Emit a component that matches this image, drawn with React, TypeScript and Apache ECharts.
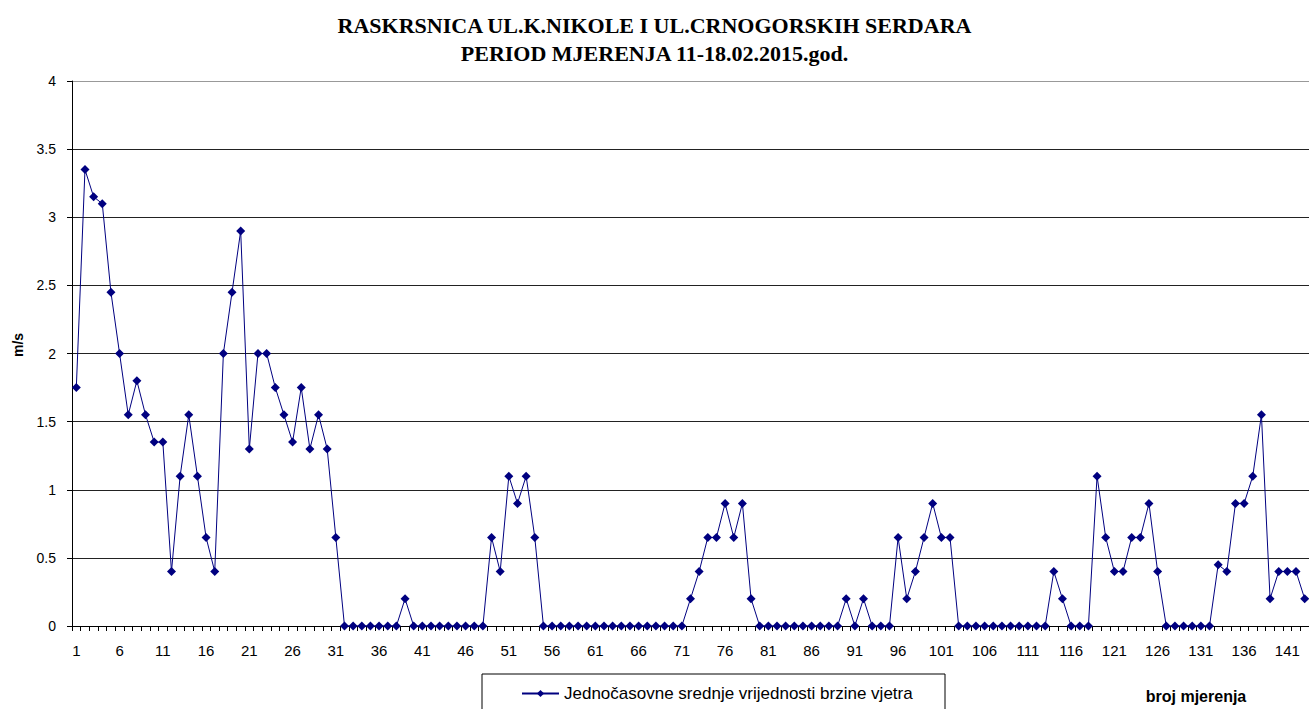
import React, { useEffect, useRef } from "react";
import * as echarts from "echarts";

const titleLines = [
  "RASKRSNICA UL.K.NIKOLE I UL.CRNOGORSKIH SERDARA",
  "PERIOD MJERENJA 11-18.02.2015.god.",
];
const seriesName = "Jednočasovne srednje vrijednosti brzine vjetra";
const yAxisTitle = "m/s";
const xAxisTitle = "broj mjerenja";

// wind speed (m/s), measurements 1..143
const windSpeed = [
  1.75, 3.35, 3.15, 3.1, 2.45, 2.0, 1.55, 1.8, 1.55, 1.35,
  1.35, 0.4, 1.1, 1.55, 1.1, 0.65, 0.4, 2.0, 2.45, 2.9,
  1.3, 2.0, 2.0, 1.75, 1.55, 1.35, 1.75, 1.3, 1.55, 1.3,
  0.65, 0, 0, 0, 0, 0, 0, 0, 0.2, 0,
  0, 0, 0, 0, 0, 0, 0, 0, 0.65, 0.4,
  1.1, 0.9, 1.1, 0.65, 0, 0, 0, 0, 0, 0,
  0, 0, 0, 0, 0, 0, 0, 0, 0, 0,
  0, 0.2, 0.4, 0.65, 0.65, 0.9, 0.65, 0.9, 0.2, 0,
  0, 0, 0, 0, 0, 0, 0, 0, 0, 0.2,
  0, 0.2, 0, 0, 0, 0.65, 0.2, 0.4, 0.65, 0.9,
  0.65, 0.65, 0, 0, 0, 0, 0, 0, 0, 0,
  0, 0, 0, 0.4, 0.2, 0, 0, 0, 1.1, 0.65,
  0.4, 0.4, 0.65, 0.65, 0.9, 0.4, 0, 0, 0, 0,
  0, 0, 0.45, 0.4, 0.9, 0.9, 1.1, 1.55, 0.2, 0.4,
  0.4, 0.4, 0.2,
];
const categories = windSpeed.map((_, i) => String(i + 1));

const yMin = 0;
const yMax = 4;
const yStep = 0.5;

export default function App() {
  const ref = useRef<HTMLDivElement>(null);
  useEffect(() => {
    if (!ref.current) return;
    const chart = echarts.init(ref.current, null, { renderer: "svg" });
    const sans = "Liberation Sans, Arial, sans-serif";
    chart.setOption({
      animation: false,
      backgroundColor: "#ffffff",
      title: {
        text: titleLines.join("\n"),
        left: "center",
        top: 6,
        textStyle: {
          fontFamily: "Liberation Serif, Times New Roman, serif",
          fontWeight: "bold",
          fontSize: 22,
          lineHeight: 28,
          color: "#000",
        },
      },
      grid: { left: 72, top: 81, width: 1238, height: 545 },
      legend: {
        data: [seriesName],
        left: 516,
        top: 680,
        itemWidth: 37,
        itemHeight: 9,
        itemGap: 4,
        textStyle: { fontFamily: sans, fontSize: 17, color: "#000" },
      },
      xAxis: {
        type: "category",
        data: categories,
        boundaryGap: true,
        axisLine: { lineStyle: { color: "#000", width: 1 } },
        axisTick: { show: true, interval: 0, length: 5, lineStyle: { color: "#000" } },
        axisLabel: { interval: 4, fontFamily: sans, fontSize: 15, color: "#000", margin: 17 },
        splitLine: { show: false },
      },
      yAxis: {
        type: "value",
        min: yMin,
        max: yMax,
        interval: yStep,
        axisLine: { show: true, lineStyle: { color: "#000", width: 1 } },
        axisTick: { show: true, length: 5, lineStyle: { color: "#000" } },
        axisLabel: { fontFamily: sans, fontSize: 14, color: "#000", margin: 16 },
        splitLine: {
          show: true,
          lineStyle: {
            color: ["#000", "#222", "#222", "#222", "#222", "#222", "#222", "#222", "#999"],
            width: 1,
          },
        },
      },
      graphic: [
        {
          type: "text",
          x: 18,
          y: 345,
          rotation: Math.PI / 2,
          style: {
            text: yAxisTitle,
            fontFamily: sans,
            fontWeight: "bold",
            fontSize: 14,
            fill: "#000",
            align: "center",
            verticalAlign: "middle",
          },
        },
        {
          type: "text",
          x: 1196,
          y: 696,
          style: {
            text: xAxisTitle,
            fontFamily: sans,
            fontWeight: "bold",
            fontSize: 16,
            fill: "#000",
            align: "center",
            verticalAlign: "middle",
          },
        },
        {
          type: "rect",
          shape: { x: 482, y: 674, width: 463, height: 60 },
          style: { fill: "none", stroke: "#000", lineWidth: 1 },
          silent: true,
        },
      ],
      series: [
        {
          name: seriesName,
          type: "line",
          data: windSpeed,
          symbol: "diamond",
          symbolSize: 9,
          showAllSymbol: true,
          lineStyle: { color: "#000080", width: 1 },
          itemStyle: { color: "#000080" },
        },
      ],
    });
    return () => chart.dispose();
  }, []);
  return (
    <div
      ref={ref}
      style={{ position: "fixed", left: 0, top: 0, width: 1309, height: 709 }}
    />
  );
}
